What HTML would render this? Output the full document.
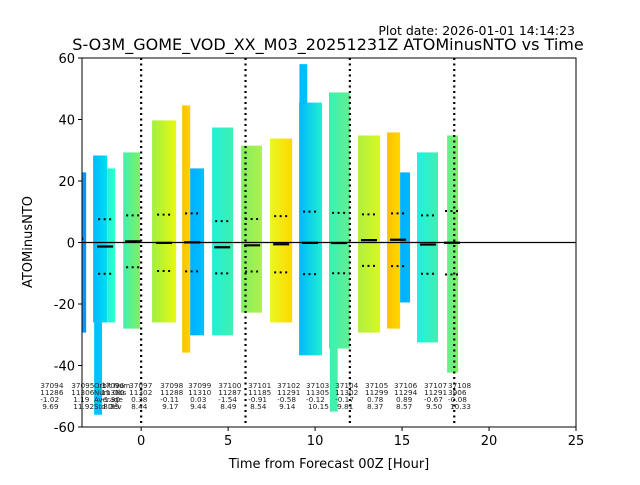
<!DOCTYPE html>
<html><head><meta charset="utf-8"><style>
body{margin:0;background:#fff;font-family:"Liberation Sans","DejaVu Sans",sans-serif}
svg text{font-family:"DejaVu Sans","Liberation Sans",sans-serif}
</style></head><body>
<svg id="chart" width="640" height="480" xmlns="http://www.w3.org/2000/svg">
<rect width="640" height="480" fill="#fff"/>
<text x="575" y="35" font-size="12.5" text-anchor="end">Plot date: 2026-01-01 14:14:23</text>
<text x="328" y="50" font-size="16" text-anchor="middle">S-O3M_GOME_VOD_XX_M03_20251231Z ATOMinusNTO vs Time</text>
<defs><clipPath id="pc"><rect x="82" y="58" width="494" height="369"/></clipPath></defs>
<g id="bands" clip-path="url(#pc)"></g>
<g id="marks" clip-path="url(#pc)"></g>
<g id="ann"></g>
<rect x="82" y="58" width="494" height="369" fill="none" stroke="#000" stroke-width="1"/>
<g id="axes"></g>
<text x="329" y="468" font-size="13" text-anchor="middle">Time from Forecast 00Z [Hour]</text>
<text transform="translate(32,242) rotate(-90)" font-size="13" text-anchor="middle">ATOMinusNTO</text>
</svg>
<script>
// data
const bandStart=[-3.5,-2.76,-1.95,-1.03,0.63,2.36,2.82,4.08,5.75,7.41,9.08,10.8,12.47,14.14,14.89,15.86,17.59,-2.7,9.1,10.85];
const bandEnd=[-3.16,-1.95,-1.49,-0.06,2.01,2.82,3.62,5.29,6.95,8.68,10.4,12.0,13.74,14.89,15.46,17.07,18.22,-2.25,9.55,11.3];
const bandTop=[22.8,28.3,24.1,29.3,39.7,44.6,24.1,37.4,31.5,33.8,45.5,48.8,34.8,35.8,22.8,29.3,34.8,-26,58,48];
const bandBottom=[-29.3,-26,-26,-28,-26,-35.8,-30.2,-30.2,-22.8,-26,-36.7,-34.5,-29.3,-28,-19.5,-32.5,-42.3,-56,45,-55];
const orbitNum=["37094","37095","37096","37097","37098","37099","37100","37101","37102","37103","37104","37105","37106","37107","37108"];
const orbitObs=["11286","11306","11360","11302","11288","11310","11287","11185","11291","11305","11302","11299","11294","11291","3906"];
const orbitAvg=[-1.02,1.19,-1.30,0.38,-0.11,0.03,-1.54,-0.91,-0.58,-0.12,-0.17,0.78,0.89,-0.67,-0.08];
const orbitStd=[9.69,11.92,8.85,8.44,9.17,9.44,8.49,8.54,9.14,10.15,9.81,8.37,8.57,9.50,10.33];
const orbitHour=[-5.57,-3.79,-2.07,-0.46,1.32,2.93,4.66,6.38,8.05,9.71,11.38,13.1,14.77,16.49,17.87];
const xTicks=[0,5,10,15,20,25];
const yTicks=[-60,-40,-20,0,20,40,60];
const dayLines=[0,6,12,18];
// styles
const bandColors=[["#1e88ff","#0098ff"],["#00b8ff","#00e0f0"],["#20f0e0","#30ffc8"],["#40f0b0","#80f060"],["#a0f040","#e8f810"],["#ffc000","#ffd400"],["#00b0ff","#00c0ff"],["#20f0d8","#40f0b0"],["#80f060","#b0f048"],["#e8f820","#ffd800"],["#00b8ff","#20f0d0"],["#40f0b0","#60f090"],["#b0f040","#d8f820"],["#ffc000","#ffd800"],["#00b0ff","#00b8ff"],["#20f0e0","#40f0b0"],["#60f090","#80f060"],["#00c0ff","#00c8ff"],["#00b8ff","#00c0ff"],["#40f0b0","#48f0a8"]];
const X0=82,X1=576,XMIN=-3.4,XMAX=25,Y0=58,Y1=427;
const xs=h=>X0+(h-XMIN)/(XMAX-XMIN)*(X1-X0);
const ys=v=>Y0+(60-v)/120*(Y1-Y0);
const NS="http://www.w3.org/2000/svg";
function mk(t,a,p){const e=document.createElementNS(NS,t);for(const k in a)e.setAttribute(k,a[k]);p.appendChild(e);return e;}
const svg=document.getElementById('chart');
const defs=svg.querySelector('defs');
const gb=document.getElementById('bands');
for(let i=0;i<bandStart.length;i++){
  const g=mk('linearGradient',{id:'g'+i,x1:'0',x2:'1',y1:'0',y2:'0'},defs);
  mk('stop',{offset:'0','stop-color':bandColors[i][0]},g);
  mk('stop',{offset:'1','stop-color':bandColors[i][1]},g);
  const r=mk('rect',{x:xs(bandStart[i]),y:ys(bandTop[i]),width:xs(bandEnd[i])-xs(bandStart[i]),height:ys(bandBottom[i])-ys(bandTop[i]),fill:'url(#g'+i+')'},gb);
  
  
}
const gm=document.getElementById('marks');
for(const d of dayLines){
  const l=mk('line',{x1:xs(d),x2:xs(d),y1:Y0,y2:Y1,stroke:'#000','stroke-width':2.2,'stroke-dasharray':'2 3.5'},gm);
  
  
}
const zl=mk('line',{x1:X0,x2:X1,y1:ys(0),y2:ys(0),stroke:'#000','stroke-width':1.3},gm);


for(let i=0;i<orbitAvg.length;i++){
  const cx=xs(orbitHour[i]);
  const m=mk('line',{x1:cx-8,x2:cx+8,y1:ys(orbitAvg[i]),y2:ys(orbitAvg[i]),stroke:'#000','stroke-width':2.2},gm);
  
  
  for(const s of [1,-1]){
    const d=mk('line',{x1:cx-7,x2:cx+8,y1:ys(orbitAvg[i]+s*orbitStd[i]),y2:ys(orbitAvg[i]+s*orbitStd[i]),stroke:'#000','stroke-width':2,'stroke-dasharray':'2 3.5'},gm);
    
    
  }
}
const ga=document.getElementById('ann');
const hdr=["Orbit Num","Num Obs","Average","Std Dev"];
for(let r=0;r<4;r++){
  const t=mk('text',{x:94,y:388+r*7,'font-size':7,fill:'#222'},ga);t.textContent=hdr[r];
  
  
}
for(let i=0;i<orbitNum.length;i++){
  const x=xs(orbitHour[i])-4;
  const vals=[orbitNum[i],orbitObs[i],orbitAvg[i].toFixed(2),orbitStd[i].toFixed(2)];
  for(let r=0;r<4;r++){
    const t=mk('text',{x:x+(r==2&&orbitAvg[i]>=0?2:0)+(r==3?2:0),y:388+r*7,'font-size':7.3,fill:'#222'},ga);
    t.textContent=vals[r];
    
    
  }
}
const ax=document.getElementById('axes');
for(const v of xTicks){
  const x=xs(v);
  mk('line',{x1:x,x2:x,y1:Y1,y2:Y1+4,stroke:'#000'},ax);
  const t=mk('text',{x:x,y:Y1+18,'font-size':13,'text-anchor':'middle'},ax);t.textContent=v;
  
  
}
for(const v of yTicks){
  const y=ys(v);
  mk('line',{x1:X0-4,x2:X0,y1:y,y2:y,stroke:'#000'},ax);
  const t=mk('text',{x:X0-7,y:y+5,'font-size':13,'text-anchor':'end'},ax);t.textContent=v;
  
  
}
</script>
</body></html>
